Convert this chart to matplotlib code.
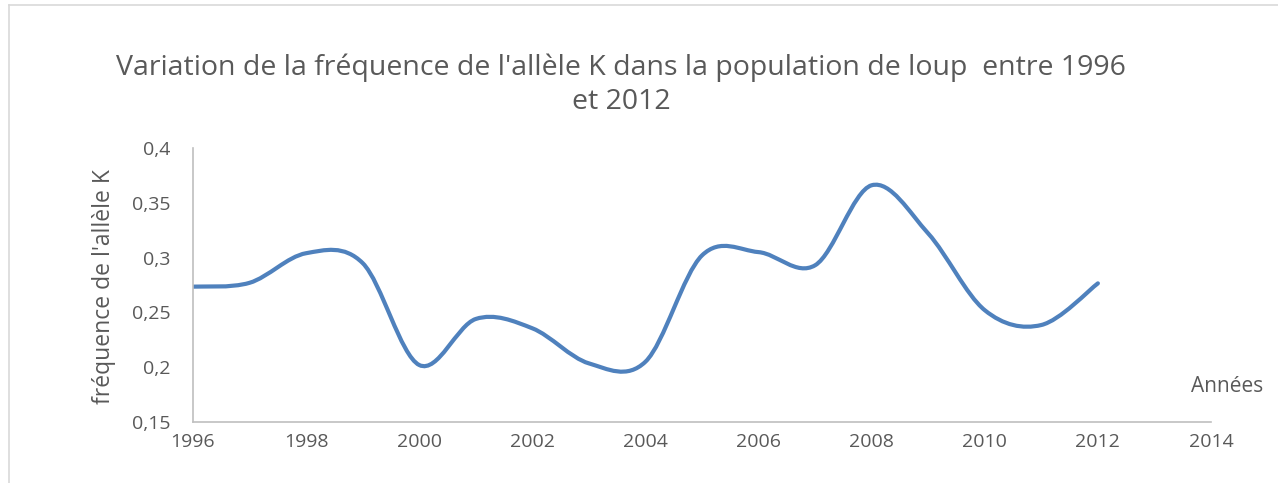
import numpy as np
import matplotlib
matplotlib.use("Agg")
import matplotlib.pyplot as plt
from matplotlib.path import Path
from matplotlib.patches import PathPatch
from matplotlib.lines import Line2D

# data
years = [1996, 1997, 1998, 1999, 2000, 2001, 2002, 2003, 2004,
         2005, 2006, 2007, 2008, 2009, 2010, 2011, 2012]
freq_k = [0.2735, 0.277, 0.304, 0.295, 0.202, 0.244, 0.2355, 0.2035, 0.205,
          0.302, 0.305, 0.293, 0.366, 0.322, 0.252, 0.2385, 0.2765]

x_ticks = [1996, 1998, 2000, 2002, 2004, 2006, 2008, 2010, 2012, 2014]
y_ticks = [0.15, 0.2, 0.25, 0.3, 0.35, 0.4]
y_labels = ["0,15", "0,2", "0,25", "0,3", "0,35", "0,4"]

title = "Variation de la fréquence de l'allèle K dans la population de loup  entre 1996\net 2012"

plt.rcParams['font.family'] = ['Open Sans', 'DejaVu Sans']
grey = '#595959'

fig = plt.figure(figsize=(12.78, 4.83), dpi=100)
ax = fig.add_axes([193 / 1278, 1 - 422 / 483, (1211 - 193) / 1278, (422 - 148) / 483])


def smooth_path(xs, ys):
    # Excel-like smoothed line: cubic bezier segments with Catmull-Rom tangents
    pts = list(zip(xs, ys))
    verts = [pts[0]]
    codes = [Path.MOVETO]
    n = len(pts)
    for i in range(n - 1):
        p0 = pts[i - 1] if i > 0 else pts[i]
        p1 = pts[i]
        p2 = pts[i + 1]
        p3 = pts[i + 2] if i + 2 < n else pts[i + 1]
        c1 = (p1[0] + (p2[0] - p0[0]) / 6, p1[1] + (p2[1] - p0[1]) / 6)
        c2 = (p2[0] - (p3[0] - p1[0]) / 6, p2[1] - (p3[1] - p1[1]) / 6)
        verts += [c1, c2, p2]
        codes += [Path.CURVE4] * 3
    return Path(verts, codes)


patch = PathPatch(smooth_path(years, freq_k), facecolor='none',
                  edgecolor='#4f81bd', linewidth=3, capstyle='round')
ax.add_patch(patch)

ax.set_xlim(1996, 2014)
ax.set_ylim(0.15, 0.4)
ax.set_xticks(x_ticks)
ax.set_yticks(y_ticks)
ax.set_yticklabels(y_labels)
ax.tick_params(length=0, labelsize=14, colors=grey)
ax.tick_params(axis='x', pad=8)
ax.tick_params(axis='y', pad=16)
for s in ['top', 'right']:
    ax.spines[s].set_visible(False)
for s in ['left', 'bottom']:
    ax.spines[s].set_color('#bfbfbf')
    ax.spines[s].set_linewidth(1.2)

fig.text(104 / 1278, 1 - 287 / 483, "fréquence de l'allèle K", fontsize=16.5,
         color=grey, rotation=90, ha='center', va='center')
fig.text(1227 / 1278, 1 - 386 / 483, "Années", fontsize=15, color=grey,
         ha='center', va='center')
fig.text(621 / 1278, 1 - 85 / 483, title, fontsize=20.5, color=grey,
         ha='center', va='center', linespacing=1.3)

# chart frame
fig.add_artist(Line2D([9 / 1278, 1], [1 - 5 / 483, 1 - 5 / 483],
                      color='#d9d9d9', lw=1.2, transform=fig.transFigure))
fig.add_artist(Line2D([9 / 1278, 9 / 1278], [0, 1 - 5 / 483],
                      color='#d9d9d9', lw=1.2, transform=fig.transFigure))

fig.savefig("out.png", dpi=100)
